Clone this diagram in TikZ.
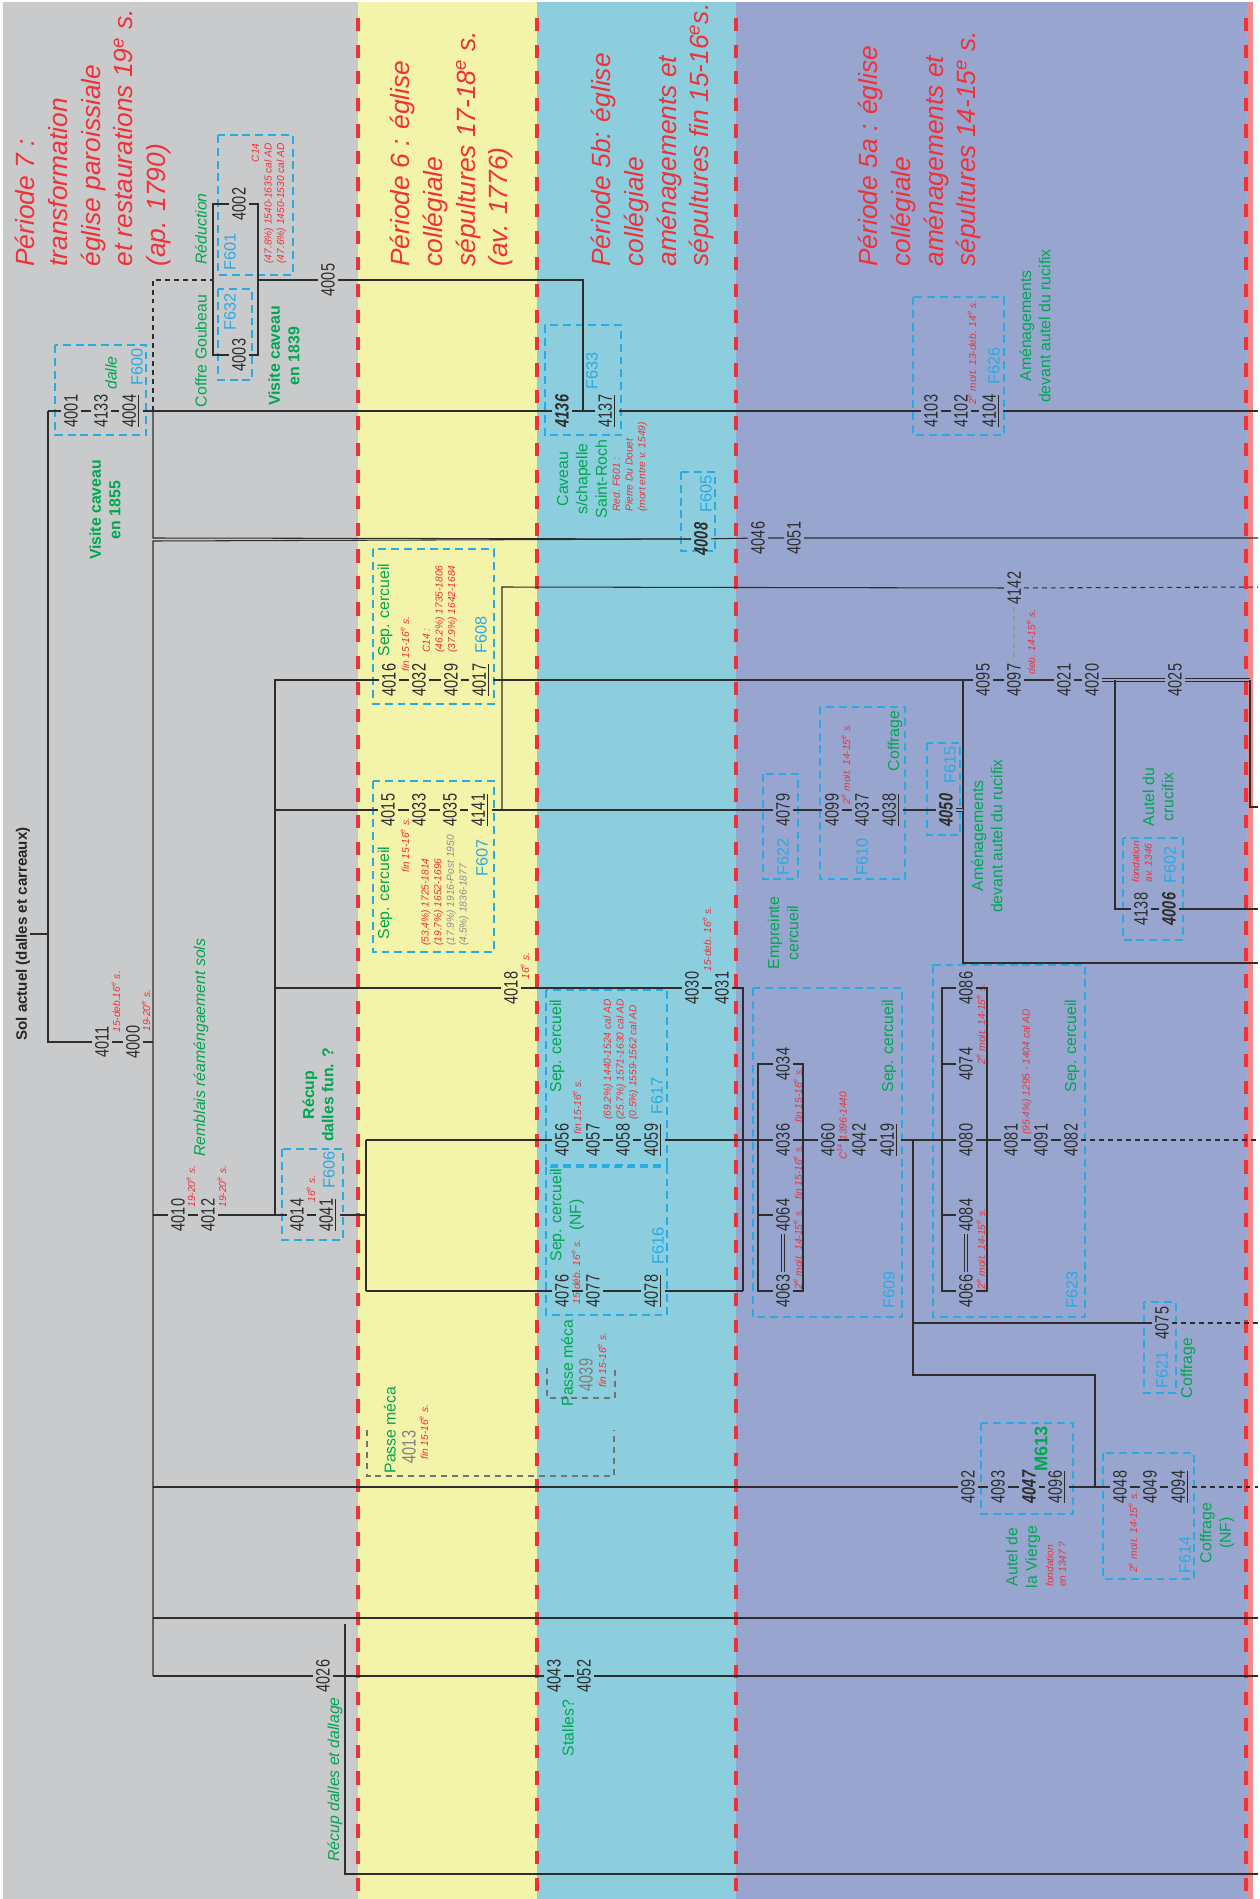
\documentclass[tikz,border=0pt]{standalone}
\usepackage{fontspec}
\setmainfont{Liberation Sans}
\newfontfamily\cond{Liberation Sans}[FakeStretch=0.75]
\usetikzlibrary{positioning}

\definecolor{zonegray}{RGB}{201,202,204}
\definecolor{zoneyellow}{RGB}{244,243,170}
\definecolor{zonecyan}{RGB}{140,206,221}
\definecolor{zonepurple}{RGB}{152,166,207}
\definecolor{zonepink}{RGB}{240,140,140}
\definecolor{perred}{RGB}{238,50,56}
\definecolor{usgreen}{RGB}{0,166,81}
\definecolor{fcyan}{RGB}{41,171,226}
\definecolor{ink}{RGB}{45,45,45}

\begin{document}
\begin{tikzpicture}[
  x=0.02cm, y=-0.02cm,
  usnum/.style={rotate=90, inner sep=1.6pt, text=ink,
    font=\cond\fontsize{11}{11}\selectfont},
  usbold/.style={usnum, font=\cond\fontsize{11}{11}\selectfont\bfseries\itshape},
  usgray/.style={usnum, text=black!50},
  uslab/.style={rotate=90, inner sep=0pt, text=usgreen, align=center,
    font=\fontsize{9}{11}\selectfont},
  uslabb/.style={uslab, font=\fontsize{9}{11}\selectfont\bfseries},
  uslabi/.style={uslab, font=\fontsize{9}{11}\selectfont\itshape},
  faitlab/.style={rotate=90, inner sep=0pt, text=fcyan,
    font=\fontsize{9.3}{11}\selectfont},
  datelab/.style={rotate=90, inner sep=0pt, text=perred, align=left,
    anchor=west, font=\fontsize{5.8}{7.2}\selectfont\itshape},
  periodlab/.style={rotate=90, inner sep=0pt, text=perred, align=left,
    anchor=north west, font=\fontsize{15}{18.6}\selectfont\itshape},
  link/.style={draw=ink, line width=0.6pt},
  linkdash/.style={link, dash pattern=on 2.8pt off 2.3pt},
  eqlink/.style={draw=ink, line width=0.5pt, double=zonepurple,
    double distance=1.1pt},
  faitbox/.style={draw=fcyan, line width=0.75pt,
    dash pattern=on 4.5pt off 2.8pt},
  passebox/.style={draw=black!55, line width=0.6pt,
    dash pattern=on 3.4pt off 2.8pt},
  limitline/.style={draw=perred, line width=2.8pt,
    dash pattern=on 7.56pt off 7.56pt}
]
\useasboundingbox (0,0) rectangle (1260,1899);

% zones
\fill[white] (0,0) rectangle (1260,1899);
\fill[zonegray] (3,2) rectangle (358,1899);
\fill[zoneyellow] (358,2) rectangle (537,1899);
\fill[zonecyan] (537,2) rectangle (736,1899);
\fill[zonepurple] (736,2) rectangle (1247,1899);
\fill[zonepink] (1247,2) rectangle (1253,1899);
\foreach \xl in {358,537,736,1246}
  \draw[limitline] (\xl,18) -- (\xl,1899);

% periods
\node[periodlab] (p7) at (15,267) {Période 7 :\\transformation\\église paroissiale\\et restaurations 19\textsuperscript{e} s.\\(ap. 1790)};
\node[periodlab] (p6) at (390,267) {Période 6 : église\\collégiale\\sépultures 17-18\textsuperscript{e} s.\\(av. 1776)};
\node[periodlab] (p5b) at (591,267) {Période 5b: église\\collégiale\\aménagements et\\sépultures fin 15-16\textsuperscript{e}s.};
\node[periodlab] (p5a) at (858,267) {Période 5a : église\\collégiale\\aménagements et\\sépultures 14-15\textsuperscript{e} s.};

% faits (dashed frames)
\draw[faitbox] (55,345) rectangle (146,435);     % F600
\draw[faitbox] (218,135) rectangle (293,275);    % F601
\draw[faitbox] (218,289) rectangle (252,380);    % F632
\draw[faitbox] (545,325) rectangle (621,435);    % F633
\draw[faitbox] (913,297) rectangle (1004,435);   % F626
\draw[faitbox] (681,472) rectangle (715,551);    % F605
\draw[faitbox] (373,549) rectangle (494,704);    % F608
\draw[faitbox] (373,781) rectangle (494,952);    % F607
\draw[faitbox] (763,774) rectangle (798,879);    % F622
\draw[faitbox] (820,707) rectangle (905,879);    % F610
\draw[faitbox] (927,743) rectangle (960,835);    % F615
\draw[faitbox] (1123,838) rectangle (1183,940);  % F602
\draw[faitbox] (282,1149) rectangle (343,1240);  % F606
\draw[faitbox] (546,990) rectangle (667,1165);   % F617
\draw[faitbox] (546,1167) rectangle (667,1315);  % F616
\draw[faitbox] (753,988) rectangle (902,1317);   % F609
\draw[faitbox] (933,965) rectangle (1085,1317);  % F623
\draw[faitbox] (1144,1302) rectangle (1176,1393);% F621
\draw[faitbox] (981,1423) rectangle (1073,1514); % M613
\draw[faitbox] (1103,1453) rectangle (1194,1579);% F614
\draw[passebox] (367,1430) |- (614,1476) -- (614,1430);
\draw[passebox] (547,1368) |- (615,1398) -- (615,1368);

% units
\node[usnum] (n4001) at (71,411) {4001};
\node[usnum] (n4133) at (101,411) {4133};
\node[usnum] (n4004) at (131,411) {\underline{4004}};
\node[usbold] (n4136) at (562,411) {4136};
\node[usnum] (n4137) at (607,411) {\underline{4137}};
\node[usnum] (n4103) at (931,411) {4103};
\node[usnum] (n4102) at (961,411) {4102};
\node[usnum] (n4104) at (991,411) {\underline{4104}};
\node[usnum] (n4002) at (239,204) {4002};
\node[usnum] (n4003) at (239,355) {4003};
\node[usnum] (n4005) at (328,280) {4005};
\node[usbold] (n4008) at (701,539) {4008};
\node[usnum] (n4046) at (758,538) {4046};
\node[usnum] (n4051) at (794,538) {4051};
\node[usnum] (n4142) at (1014,588) {4142};
\node[usnum] (n4016) at (389,680) {4016};
\node[usnum] (n4032) at (419,680) {4032};
\node[usnum] (n4029) at (451,680) {4029};
\node[usnum] (n4017) at (481,680) {\underline{4017}};
\node[usnum] (n4095) at (983,680) {4095};
\node[usnum] (n4097) at (1014,680) {4097};
\node[usnum] (n4021) at (1064,680) {4021};
\node[usnum] (n4020) at (1092,680) {4020};
\node[usnum] (n4025) at (1175,680) {4025};
\node[usnum] (n4015) at (388,810) {4015};
\node[usnum] (n4033) at (419,810) {4033};
\node[usnum] (n4035) at (450,810) {4035};
\node[usnum] (n4141) at (480,810) {\underline{4141}};
\node[usnum] (n4079) at (783,810) {4079};
\node[usnum] (n4099) at (832,810) {4099};
\node[usnum] (n4037) at (862,810) {4037};
\node[usnum] (n4038) at (891,810) {\underline{4038}};
\node[usbold] (n4050) at (946,810) {4050};
\node[usnum] (n4138) at (1141,909) {4138};
\node[usbold] (n4006) at (1169,909) {4006};
\node[usnum] (n4018) at (511,988) {4018};
\node[usnum] (n4030) at (692,988) {4030};
\node[usnum] (n4031) at (722,988) {4031};
\node[usnum] (n4011) at (102,1042) {4011};
\node[usnum] (n4000) at (133,1042) {4000};
\node[usnum] (n4034) at (783,1064) {4034};
\node[usnum] (n4086) at (966,988) {4086};
\node[usnum] (n4074) at (966,1064) {4074};
\node[usnum] (n4056) at (562,1140) {4056};
\node[usnum] (n4057) at (593,1140) {4057};
\node[usnum] (n4058) at (623,1140) {4058};
\node[usnum] (n4059) at (653,1140) {\underline{4059}};
\node[usnum] (n4036) at (783,1140) {4036};
\node[usnum] (n4060) at (828,1140) {4060};
\node[usnum] (n4042) at (859,1140) {4042};
\node[usnum] (n4019) at (889,1140) {\underline{4019}};
\node[usnum] (n4080) at (966,1140) {4080};
\node[usnum] (n4081) at (1011,1140) {4081};
\node[usnum] (n4091) at (1041,1140) {4091};
\node[usnum] (n4082) at (1071,1140) {4082};
\node[usnum] (n4010) at (178,1215) {4010};
\node[usnum] (n4012) at (208,1215) {4012};
\node[usnum] (n4014) at (297,1215) {4014};
\node[usnum] (n4041) at (328,1215) {\underline{4041}};
\node[usnum] (n4064) at (783,1215) {4064};
\node[usnum] (n4084) at (966,1215) {4084};
\node[usnum] (n4076) at (562,1291) {4076};
\node[usnum] (n4077) at (593,1291) {4077};
\node[usnum] (n4078) at (653,1291) {\underline{4078}};
\node[usnum] (n4063) at (783,1291) {4063};
\node[usnum] (n4066) at (966,1291) {4066};
\node[usnum] (n4075) at (1162,1323) {4075};
\node[usgray] (n4039) at (586,1375) {4039};
\node[usgray] (n4013) at (409,1447) {4013};
\node[usnum] (n4092) at (968,1487) {4092};
\node[usnum] (n4093) at (998,1487) {4093};
\node[usbold] (n4047) at (1029,1487) {4047};
\node[usnum] (n4096) at (1057,1487) {\underline{4096}};
\node[usnum] (n4048) at (1120,1487) {4048};
\node[usnum] (n4049) at (1150,1487) {4049};
\node[usnum] (n4094) at (1180,1487) {\underline{4094}};
\node[usnum] (n4026) at (323,1676) {4026};
\node[usnum] (n4043) at (554,1676) {4043};
\node[usnum] (n4052) at (584,1676) {4052};

% fait numbers
\node[faitlab] (f600) at (137,367) {F600};
\node[faitlab] (f601) at (230,252) {F601};
\node[faitlab] (f632) at (230,312) {F632};
\node[faitlab] (f633) at (592,371) {F633};
\node[faitlab] (f626) at (994,366) {F626};
\node[faitlab] (f605) at (706,494) {F605};
\node[faitlab] (f608) at (481,635) {F608};
\node[faitlab] (f607) at (482,858) {F607};
\node[faitlab] (f622) at (783,857) {F622};
\node[faitlab] (f610) at (862,857) {F610};
\node[faitlab] (f615) at (950,765) {F615};
\node[faitlab] (f602) at (1170,865) {F602};
\node[faitlab] (f606) at (329,1170) {F606};
\node[faitlab] (f617) at (657,1096) {F617};
\node[faitlab] (f616) at (658,1246) {F616};
\node[faitlab] (f609) at (889,1290) {F609};
\node[faitlab] (f623) at (1072,1290) {F623};
\node[faitlab] (f621) at (1162,1370) {F621};
\node[faitlab] (f614) at (1185,1555) {F614};

% interpretations
\node[rotate=90, inner sep=0pt, text=black!85,
  font=\fontsize{8.6}{10}\selectfont\bfseries] (sol) at (23,934) {Sol actuel (dalles et carreaux)};
\node[uslabi] (ldalle) at (111,373) {dalle};
\node[uslabi] (lreduc) at (201,229) {Réduction};
\node[uslab] (lcoffre) at (201,351) {Coffre Goubeau};
\node[uslabb] (lvis39) at (284,356) {Visite caveau\\en 1839};
\node[uslabb] (lvis55) at (105,510) {Visite caveau\\en 1855};
\node[uslab] (lcaveau) at (582,479) {Caveau\\s/chapelle\\Saint-Roch};
\node[uslab] (lamen1) at (1035,326) {Aménagements\\devant autel du rucifix};
\node[uslab] (lsep608) at (385,610) {Sep. cercueil};
\node[uslab] (lsep607) at (385,893) {Sep. cercueil};
\node[uslab] (lempr) at (783,933) {Empreinte\\cercueil};
\node[uslab] (lcof610) at (895,741) {Coffrage};
\node[uslab] (lamen2) at (987,836) {Aménagements\\devant autel du rucifix};
\node[uslab] (lautel) at (1158,797) {Autel du\\crucifix};
\node[uslabi, anchor=west] (lrembl) at (201,1157) {Remblais réaméngaement sols};
\node[uslabb] (lrecup) at (318,1095) {Récup\\dalles fun. ?};
\node[uslab] (lsep617) at (557,1046) {Sep. cercueil};
\node[uslab] (lsep616) at (567,1215) {Sep. cercueil\\(NF)};
\node[uslab] (lsep609) at (889,1046) {Sep. cercueil};
\node[uslab] (lsep623) at (1072,1046) {Sep. cercueil};
\node[uslab] (lcof621) at (1188,1368) {Coffrage};
\node[uslab] (lpasse1) at (390,1430) {Passe méca};
\node[uslab] (lpasse2) at (567,1363) {Passe méca};
\node[uslabb, font=\fontsize{10.4}{12}\selectfont\bfseries] (lm613) at (1041,1449) {M613};
\node[uslab] (lvierge) at (1023,1557) {Autel de\\la Vierge};
\node[uslab] (lcof614) at (1217,1533) {Coffrage\\(NF)};
\node[uslabi, anchor=west] (ldallage) at (335,1862) {Récup dalles et dallage};
\node[uslab] (lstalles) at (568,1728) {Stalles?};

% datations
\node[datelab, align=right, anchor=east] (d601) at (269,143) {C14\\(47.8\%) 1540-1635 cal AD\\(47.6\%) 1450-1530 cal AD};
\node[datelab] (d633) at (630,512) {Red. F601 :\\Pierre Du Douet\\(mort entre v. 1549)};
\node[datelab] (d626) at (972,405) {2\textsuperscript{e} moit. 13-deb. 14\textsuperscript{e} s.};
\node[datelab] (d608a) at (405,672) {fin 15-16\textsuperscript{e} s.};
\node[datelab] (d608b) at (440,653) {C14 :\\(46.2\%) 1735-1806\\(37.9\%) 1642-1684};
\node[datelab] (d607a) at (405,873) {fin 15-16\textsuperscript{e} s.};
\node[datelab] (d607b) at (445,946) {(53.4\%) 1725-1814\\(19.7\%) 1652-1696\\\textcolor{black!45}{(17.9\%) 1916-Post 1950}\\\textcolor{black!45}{(4.5\%) 1836-1877}};
\node[datelab] (d610) at (846,805) {2\textsuperscript{e} moit. 14-15\textsuperscript{e} s.};
\node[datelab] (d4097) at (1031,675) {deb. 14-15\textsuperscript{e} s.};
\node[datelab] (d602) at (1142,883) {fondation\\av. 1346};
\node[datelab] (d4011) at (116,1033) {15-deb.16\textsuperscript{e} s.};
\node[datelab] (d4000) at (146,1032) {19-20\textsuperscript{e} s.};
\node[datelab] (d4018) at (525,980) {16\textsuperscript{e} s.};
\node[datelab] (d4030) at (707,972) {15-deb. 16\textsuperscript{e} s.};
\node[datelab] (d617a) at (577,1135) {fin 15-16\textsuperscript{e} s.};
\node[datelab] (d617b) at (621,1120) {(69.2\%) 1440-1524 cal AD\\(25.7\%) 1571-1630 cal AD\\(0.5\%) 1559-1562 cal AD};
\node[datelab] (d4034) at (798,1123) {fin 15-16\textsuperscript{e} s.};
\node[datelab] (d4036) at (798,1200) {fin 15-16\textsuperscript{e} s.};
\node[datelab] (d4063) at (798,1290) {2\textsuperscript{e} moit. 14-15\textsuperscript{e} s.};
\node[datelab] (d4060) at (842,1160) {C\textsuperscript{14} 1396-1440};
\node[datelab] (d4086) at (981,1065) {2\textsuperscript{e} moit. 14-15\textsuperscript{e} s.};
\node[datelab] (d4066) at (981,1290) {2\textsuperscript{e} moit. 14-15\textsuperscript{e} s.};
\node[datelab] (d623) at (1027,1135) {(95.4\%) 1295 - 1404 cal AD};
\node[datelab] (d4010) at (191,1208) {19-20\textsuperscript{e} s.};
\node[datelab] (d4012) at (222,1208) {19-20\textsuperscript{e} s.};
\node[datelab] (d4014) at (311,1203) {16\textsuperscript{e} s.};
\node[datelab] (d616) at (576,1305) {15-déb. 16\textsuperscript{e} s.};
\node[datelab] (d4039) at (602,1388) {fin 15-16\textsuperscript{e} s.};
\node[datelab] (d4013) at (424,1460) {fin 15-16\textsuperscript{e} s.};
\node[datelab] (d613) at (1056,1587) {fondation\\en 1347 ?};
\node[datelab] (d614) at (1133,1573) {2\textsuperscript{e} moit. 14-15\textsuperscript{e} s.};

% junctions
\coordinate (ja) at (48,411);
\coordinate (jb) at (48,1042);
\coordinate (jc) at (153,280);
\coordinate (jd) at (213,280);
\coordinate (je) at (153,411);
\coordinate (jf) at (153,538);
\coordinate (jg) at (153,541);
\coordinate (jh) at (153,1042);
\coordinate (ji) at (153,1215);
\coordinate (jj) at (153,1487);
\coordinate (jk) at (153,1618);
\coordinate (jl) at (153,1676);
\coordinate (jm) at (258,280);
\coordinate (jn) at (583,280);
\coordinate (jo) at (583,411);
\coordinate (r1) at (213,204);
\coordinate (r2) at (258,204);
\coordinate (r3) at (258,355);
\coordinate (r4) at (213,355);
\coordinate (k1) at (275,680);
\coordinate (k2) at (275,810);
\coordinate (k3) at (275,988);
\coordinate (k4) at (275,1215);
\coordinate (k5) at (502,810);
\coordinate (k6) at (502,587);
\coordinate (m1) at (366,1140);
\coordinate (m2) at (366,1215);
\coordinate (m3) at (366,1291);
\coordinate (m4) at (743,988);
\coordinate (m5) at (743,1291);
\coordinate (q1) at (963,680);
\coordinate (q2) at (963,963);
\coordinate (q3) at (963,810);
\coordinate (q4) at (1115,680);
\coordinate (q5) at (1115,909);
\coordinate (q6) at (1250,680);
\coordinate (q7) at (1250,807);
\coordinate (s1) at (913,1140);
\coordinate (s2) at (913,1323);
\coordinate (s3) at (913,1375);
\coordinate (s4) at (1095,1375);
\coordinate (s5) at (1095,1487);
\coordinate (u1) at (345,1624);
\coordinate (u2) at (345,1874);
\coordinate (a1) at (758,1064);
\coordinate (a2) at (803,1064);
\coordinate (a3) at (803,1291);
\coordinate (a4) at (758,1291);
\coordinate (a5) at (758,1215);
\coordinate (b1) at (942,988);
\coordinate (b2) at (987,988);
\coordinate (b3) at (987,1291);
\coordinate (b4) at (942,1291);
\coordinate (b5) at (942,1064);
\coordinate (b6) at (942,1215);
\foreach \ye in {411,538,587,807,909,963,1140,1323,1487,1618,1676,1874}
  \coordinate (e\ye) at (1258,\ye);

% connectors
\draw[link] (sol.south) -- (sol.south -| ja);
\draw[link] (ja) -- (n4001) -- (n4133) -- (n4004) -- (n4136) -- (n4137)
  -- (n4103) -- (n4102) -- (n4104) -- (e411);
\draw[link] (ja) -- (jb) -- (n4011) -- (n4000) -- (jh);
\draw[linkdash] (je) -- (jc) -- (jd);
\draw[link] (jd) -- (r4) -- (n4003) -- (r3) -- (r2) -- (n4002) -- (r1) -- (jd);
\draw[link] (jm) -- (n4005) -- (jn) -- (jo);
\draw[link] (je) -- (jf) -- (n4008);
\draw[link] (n4008) -- (jg) -- (jl);
\draw[link] (n4008) -- (n4046) -- (n4051) -- (e538);
\draw[link] (k4) -- (k1) -- (n4016) -- (n4032) -- (n4029) -- (n4017)
  -- (n4095) -- (n4097) -- (n4021) -- (n4020);
\draw[eqlink] (n4020) -- (n4025) -- (q6);
\draw[link] (q6) -- (q7) -- (e807);
\draw[link] (q4) -- (q5) -- (n4138) -- (n4006) -- (e909);
\draw[link] (q1) -- (q2) -- (e963);
\draw[link] (k2) -- (n4015) -- (n4033) -- (n4035) -- (n4141) -- (n4079)
  -- (n4099) -- (n4037) -- (n4038) -- (n4050);
\draw[eqlink] (n4050) -- (q3);
\draw[link] (k5) -- (k6) -- (n4142);
\draw[linkdash] (n4142) -- (e587);
\draw[linkdash, draw=black!40, line width=0.9pt] (n4142) -- (n4097);
\draw[link] (k3) -- (n4018) -- (n4030) -- (n4031) -- (m4) -- (m5);
\draw[link] (ji) -- (n4010) -- (n4012) -- (n4014) -- (n4041) -- (m2);
\draw[link] (m1) -- (m3);
\draw[link] (m1) -- (n4056) -- (n4057) -- (n4058) -- (n4059) -- (n4036)
  -- (n4060) -- (n4042) -- (n4019) -- (n4080) -- (n4081) -- (n4091) -- (n4082);
\draw[linkdash] (n4082) -- (e1140);
\draw[link] (m3) -- (n4076) -- (n4077) -- (n4078) -- (m5);
% brackets F609 / F623
\draw[link] (n4034) -- (a1) -- (a4) -- (n4063) -- (a3) -- (a2) -- (n4034);
\draw[link] (a5) -- (n4064);
\draw[eqlink] (n4064) -- (n4063);
\draw[link] (n4086) -- (b1) -- (b4) -- (n4066) -- (b3) -- (b2) -- (n4086);
\draw[link] (b5) -- (n4074);
\draw[link] (b6) -- (n4084);
\draw[eqlink] (n4084) -- (n4066);
\draw[link] (s1) -- (s3) -- (s4) -- (s5) -- (n4048);
\draw[link] (s2) -- (n4075);
\draw[linkdash] (n4075) -- (e1323);
\draw[link] (jj) -- (n4092) -- (n4093) -- (n4047) -- (n4096) -- (n4048)
  -- (n4049) -- (n4094);
\draw[linkdash] (n4094) -- (e1487);
\draw[link] (jk) -- (e1618);
\draw[link] (jl) -- (n4026) -- (n4043) -- (n4052) -- (e1676);
\draw[link] (u1) -- (u2) -- (e1874);

\end{tikzpicture}
\end{document}
